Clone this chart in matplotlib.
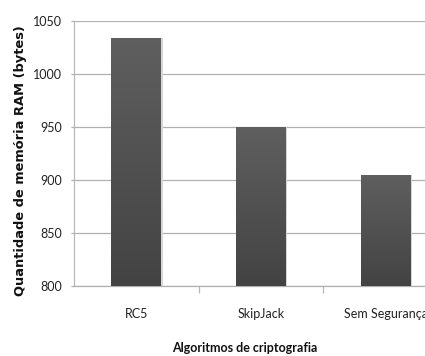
import numpy as np
import matplotlib
matplotlib.use("Agg")
import matplotlib.pyplot as plt
from matplotlib.colors import LinearSegmentedColormap

categories = ["RC5", "SkipJack", "Sem Segurança"]
ram_bytes = [1034, 950, 905]
yticks = [800, 850, 900, 950, 1000, 1050]

W, H = 425, 356
fig = plt.figure(figsize=(W / 100, H / 100), dpi=100)
fig.patch.set_facecolor("white")

# axes box (extends past the right edge of the canvas)
left, bottom, top = 74, 286, 21
cat_w = 124.7
ax_w = cat_w * len(categories)
ax = fig.add_axes([left / W, 1 - bottom / H, ax_w / W, (bottom - top) / H])

x = np.arange(len(categories))
bars = ax.bar(x, [v - 800 for v in ram_bytes], bottom=800, width=0.4,
              color="none", edgecolor="none", zorder=3)

# vertical gray gradient inside each bar
cmap = LinearSegmentedColormap.from_list("bar", ["#434343", "#5f5f5f"])
grad = np.linspace(0, 1, 256).reshape(-1, 1)
for b, v in zip(bars, ram_bytes):
    x0 = b.get_x()
    x1 = x0 + b.get_width()
    # soft light shadow on right side
    ax.bar(b.get_x() + b.get_width() / 2 + 0.012, v - 800, bottom=800,
           width=0.4, color="#d6d6d6", zorder=2)
    im = ax.imshow(grad, extent=[x0, x1, 800, v], origin="lower",
                   cmap=cmap, aspect="auto", zorder=3)
    im.set_clip_path(b)

ax.set_xlim(-0.5, len(categories) - 0.5)
ax.set_ylim(800, 1050)
ax.set_yticks(yticks)
ax.set_yticklabels([str(t) for t in yticks])
ax.grid(axis="y", color="#b0b0b0", linewidth=0.9, zorder=0)
ax.set_axisbelow(True)

ax.set_xticks(x)
ax.set_xticklabels(categories)
ax.tick_params(axis="x", length=0, pad=15.5)
# category separator ticks
ax.set_xticks([0.5, 1.5], minor=True)
ax.tick_params(axis="x", which="minor", length=5, color="#b8b8b8", width=0.9)
ax.tick_params(axis="y", length=2, color="#b0b0b0", width=0.9, pad=6.5)

for s in ["top", "right"]:
    ax.spines[s].set_visible(False)
ax.spines["left"].set_color("#b8b8b8")
ax.spines["bottom"].set_color("#b0b0b0")
ax.spines["left"].set_linewidth(0.9)
ax.spines["bottom"].set_linewidth(0.9)

tick_family = ["Lato", "DejaVu Sans"]
for lab in ax.get_xticklabels() + ax.get_yticklabels():
    lab.set_fontfamily(tick_family)
    lab.set_fontsize(9)
    lab.set_color("#222222")

fig.text(245 / W, 1 - 348 / H, "Algoritmos de criptografia",
         ha="center", va="center", fontsize=9, fontweight="bold",
         family=tick_family, color="#111111")
fig.text(21 / W, 1 - 161 / H, "Quantidade de memória RAM (bytes)",
         ha="center", va="center", rotation=90, fontsize=9.4, fontweight="bold",
         family=["DejaVu Sans"], color="#111111")

fig.savefig("out.png", dpi=100, facecolor="white")
